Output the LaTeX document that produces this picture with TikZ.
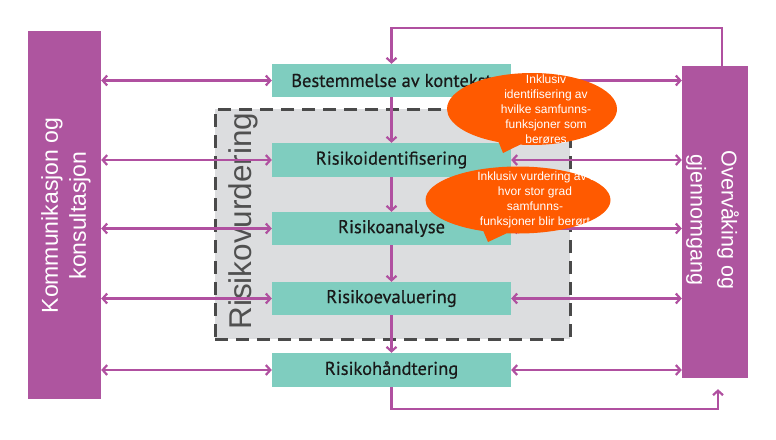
\documentclass[tikz,border=0pt]{standalone}
\usepackage{fontspec}
\setmainfont{Liberation Sans}
\newfontfamily\boxfont[FakeBold=0.5]{PT Sans}
\usetikzlibrary{arrows.meta,shapes.callouts}
\definecolor{purp}{HTML}{AE559F}
\definecolor{boxgreen}{HTML}{7FCDBF}
\definecolor{arrowc}{HTML}{B050A0}
\definecolor{bubblec}{HTML}{FF5A00}
\definecolor{grayfill}{HTML}{DCDDDF}
\definecolor{dashc}{HTML}{4A4A4A}
\definecolor{rvtext}{HTML}{505050}
\begin{document}
\begin{tikzpicture}[x=1pt,y=-1pt,
  stepbox/.style={fill=boxgreen, minimum width=239pt, minimum height=33pt, inner sep=0pt,
    font=\boxfont\fontsize{18.5}{20}\selectfont, text=black!90},
  sidebox/.style={fill=purp, inner sep=0pt},
  sidetext/.style={text=white, align=center, inner sep=0pt},
  conn/.style={draw=arrowc, line width=2.2pt},
  tip/.tip={Straight Barb[length=4.5pt,width=10pt]},
  bubble/.style={ellipse callout, fill=bubblec, inner sep=0pt},
  bubbletext/.style={text=white, align=center, inner sep=0pt, font=\fontsize{12}{15}\selectfont}
]
\useasboundingbox (0,0) rectangle (776,439);

% dashed assessment frame
\node[fill=grayfill, draw=dashc, line width=3pt, dash pattern=on 13pt off 8pt,
      minimum width=355pt, minimum height=230pt, inner sep=0pt] (rv) at (392.5,224) {};
\node[rotate=90, text=rvtext, font=\fontsize{31.5}{33}\selectfont, inner sep=0pt] (rvl) at (243,221) {Risikovurdering};

% side boxes
\node[sidebox, minimum width=73pt, minimum height=368pt] (kom) at (64.5,215) {};
\node[sidetext, rotate=90, font=\fontsize{23}{28}\selectfont] (komt) at (66,215.5) {Kommunikasjon og\\konsultasjon};
\node[sidebox, minimum width=66pt, minimum height=312pt] (ovr) at (715,222) {};
\node[sidetext, rotate=-90, font=\fontsize{21.5}{31}\selectfont] (ovrt) at (712.5,220) {Overvåking og\\gjennomgang};

% step boxes
\node[stepbox] (ctx) at (391.5,80.5) {Bestemmelse av kontekst};
\node[stepbox, minimum height=34pt] (id) at (391.5,160) {Risikoidentifisering};
\node[stepbox] (an) at (391.5,228.5) {Risikoanalyse};
\node[stepbox] (ev) at (391.5,298.5) {Risikoevaluering};
\node[stepbox, minimum height=34pt] (ha) at (391.5,370) {Risikohåndtering};

% vertical flow
\draw[conn, -tip] (ctx) -- (id);
\draw[conn, -tip] (id) -- (an);
\draw[conn, -tip] (an) -- (ev);
\draw[conn, -tip] (ev) -- (ha);

% horizontal links
\foreach \s in {ctx,id,an,ev,ha}{
  \draw[conn, tip-tip] (kom.east |- \s) -- (\s.west);
  \draw[conn, tip-tip] (\s.east) -- (ovr.west |- \s);
}

% loops
\coordinate (tl) at (722,28);
\coordinate (br) at (718,409);
\draw[conn, -tip] (ovr.north -| tl) -- (tl) -| (ctx.north);
\draw[conn, -tip, shorten >=11pt] (ha.south) |- (br) -- (ovr.south -| br);

% bubbles
\node[bubble, minimum width=170pt, minimum height=72pt, callout absolute pointer={(503,153)}] (b1) at (532,109) {};
\node[bubbletext] (b1t) at (546,109) {Inklusiv\\identifisering av\\hvilke samfunns-\\funksjoner som\\berøres};
\node[bubble, minimum width=185pt, minimum height=67pt, callout absolute pointer={(488,242)}] (b2) at (518,200) {};
\node[bubbletext] (b2t) at (535,199.5) {Inklusiv vurdering av i\\hvor stor grad\\samfunns-\\funksjoner blir berørt};
\end{tikzpicture}
\end{document}
